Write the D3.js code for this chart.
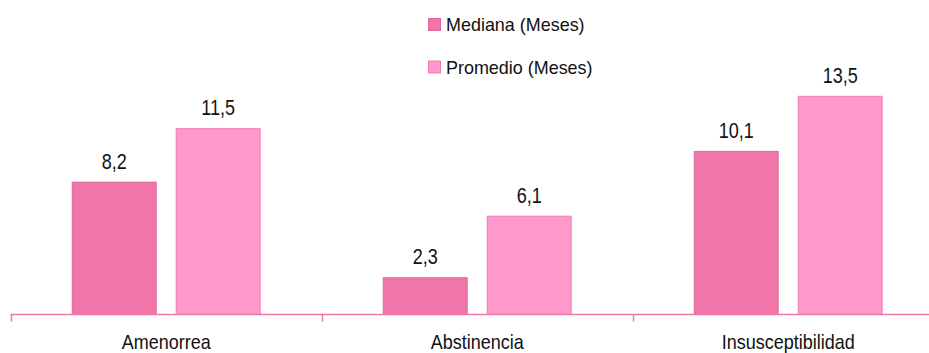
<!DOCTYPE html>
<html>
<head>
<meta charset="utf-8">
<script src="https://cdn.jsdelivr.net/npm/d3@7"></script>
<style>
  body { margin: 0; background: #fff; }
  text { font-family: "Liberation Sans Narrow", "Arial Narrow", "Liberation Sans", sans-serif; fill: #111; }
</style>
</head>
<body>
<div id="chart"></div>
<script>
// data
var categories = ["Amenorrea", "Abstinencia", "Insusceptibilidad"];
var seriesNames = ["Mediana (Meses)", "Promedio (Meses)"];
var mediana = [8.2, 2.3, 10.1];
var promedio = [11.5, 6.1, 13.5];

var colors = ["#F075A8", "#FF99CC"];
var borders = ["#E0669A", "#F07BB4"];

var width = 929, height = 353;
var baseY = 314.5;

var svg = d3.select("#chart")
  .append("svg")
    .attr("width", width)
    .attr("height", height);

// scales
var x0 = d3.scaleBand()
  .domain(categories)
  .range([10.7, 943.7])
  .paddingInner(0)
  .paddingOuter(0);

var x1 = d3.scaleBand()
  .domain(seriesNames)
  .range([0, x0.bandwidth()])
  .paddingInner(0.183)
  .paddingOuter(0.587);

var y = d3.scaleLinear()
  .domain([0, 16])
  .range([baseY, baseY - 16.2 * 16]);

var rows = categories.map(function(c, i) {
  return { cat: c, values: [mediana[i], promedio[i]] };
});

// bars
var groups = svg.append("g")
  .selectAll("g")
  .data(rows)
  .enter()
  .append("g")
    .attr("transform", function(d) { return "translate(" + x0(d.cat) + ",0)"; });

groups.selectAll("rect")
  .data(function(d) { return d.values.map(function(v, j) { return { key: seriesNames[j], v: v, j: j }; }); })
  .enter()
  .append("rect")
    .attr("x", function(d) { return x1(d.key) + 0.5; })
    .attr("y", function(d) { return y(d.v) + 0.5; })
    .attr("width", x1.bandwidth() - 1)
    .attr("height", function(d) { return baseY - y(d.v) - 0.5; })
    .style("fill", function(d) { return colors[d.j]; })
    .style("stroke", function(d) { return borders[d.j]; })
    .style("stroke-width", 1);

// value labels (original font is a narrow one, so squeeze a bit)
groups.selectAll("text")
  .data(function(d) { return d.values.map(function(v, j) { return { key: seriesNames[j], v: v }; }); })
  .enter()
  .append("text")
    .attr("transform", function(d) {
      return "translate(" + (x1(d.key) + x1.bandwidth() / 2) + "," + (y(d.v) - 13) + ") scale(0.82,1)";
    })
    .attr("text-anchor", "middle")
    .style("font-size", "22px")
    .text(function(d) { return d3.format(".1f")(d.v).replace(".", ","); });

// x axis
var axis = svg.append("g")
  .attr("transform", "translate(0," + baseY + ")")
  .call(d3.axisBottom(x0).tickSize(0).tickPadding(20.5));
axis.select(".domain").remove();
axis.selectAll("text")
  .attr("transform", "scale(0.9,1)")
  .style("font-size", "20px")
  .style("fill", "#111")
  .style("font-family", "'Liberation Sans Narrow', 'Arial Narrow', 'Liberation Sans', sans-serif");

svg.append("line")
  .attr("x1", x0.range()[0])
  .attr("x2", width)
  .attr("y1", baseY)
  .attr("y2", baseY)
  .attr("stroke", "#E879AC")
  .attr("stroke-width", 1.5);

// boundary ticks
svg.selectAll(".btick")
  .data(categories)
  .enter()
  .append("line")
    .attr("class", "btick")
    .attr("x1", function(d) { return Math.round(x0(d)) + 0.5; })
    .attr("x2", function(d) { return Math.round(x0(d)) + 0.5; })
    .attr("y1", baseY)
    .attr("y2", baseY + 7)
    .attr("stroke", "#E879AC")
    .attr("stroke-width", 1.5);

// legend
var legend = svg.selectAll(".legend")
  .data(seriesNames)
  .enter()
  .append("g")
    .attr("class", "legend")
    .attr("transform", function(d, i) { return "translate(428," + (18 + i * 42.5) + ")"; });

legend.append("rect")
  .attr("x", 0.5)
  .attr("y", 0.5)
  .attr("width", 12)
  .attr("height", 12)
  .style("fill", function(d, i) { return colors[i]; })
  .style("stroke", function(d, i) { return borders[i]; });

legend.append("text")
  .attr("transform", "translate(18,13) scale(0.945,1)")
  .style("font-size", "19px")
  .text(function(d) { return d; });
</script>
</body>
</html>
